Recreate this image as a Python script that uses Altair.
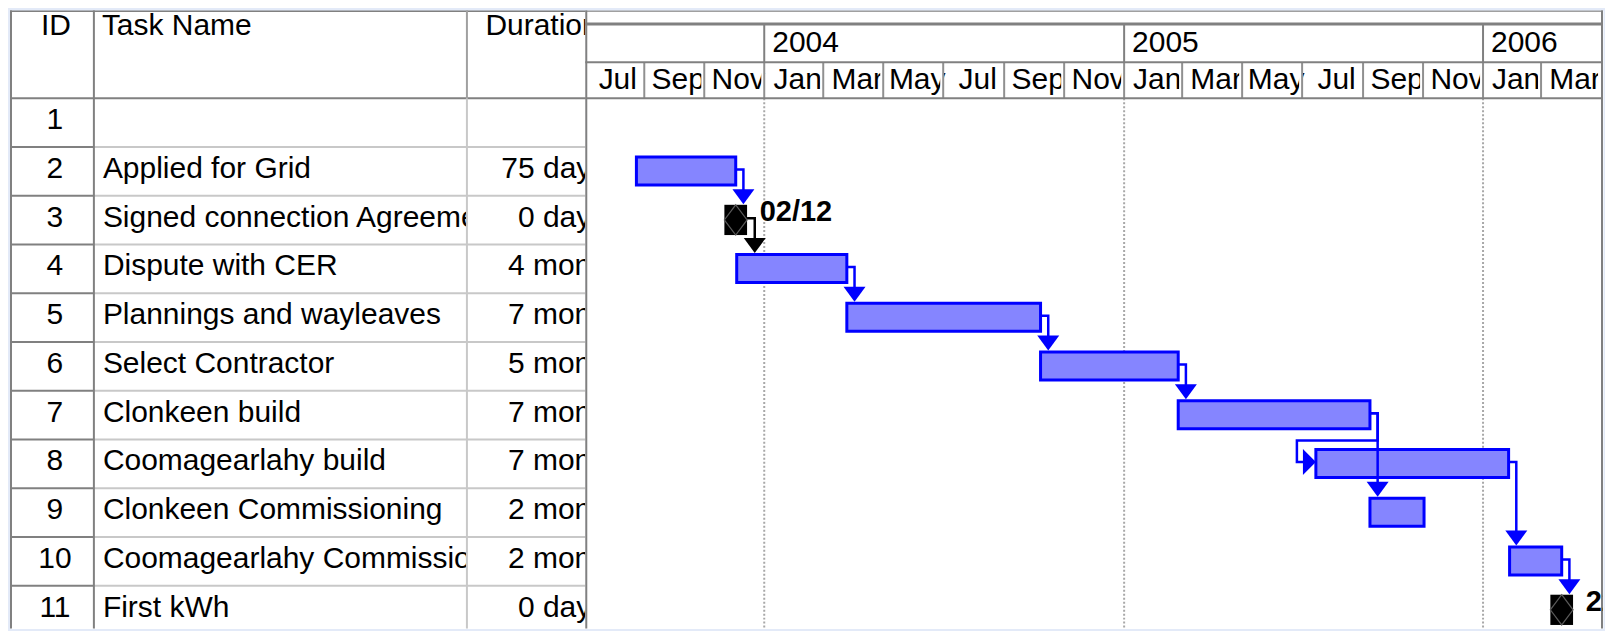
import altair as alt
import pandas as pd

# ---------------- data ----------------
task_ids = [1, 2, 3, 4, 5, 6, 7, 8, 9, 10, 11]
task_names = ["", "Applied for Grid", "Signed connection Agreement", "Dispute with CER",
              "Plannings and wayleaves", "Select Contractor", "Clonkeen build",
              "Coomagearlahy build", "Clonkeen Commissioning", "Coomagearlahy Commissioning",
              "First kWh"]
task_durations = ["", "75 days", "0 days", "4 mons", "7 mons", "5 mons", "7 mons",
                  "7 mons", "2 mons", "2 mons", "0 days"]
task_starts = [None, "2003-08-24", "2003-12-03", "2003-12-04", "2004-03-25", "2004-10-08",
               "2005-02-25", "2005-07-15", "2005-09-08", "2006-01-28", "2006-03-22"]
task_finishes = [None, "2003-12-03", "2003-12-03", "2004-03-25", "2004-10-08", "2005-02-25",
                 "2005-09-08", "2006-01-27", "2005-11-02", "2006-03-22", "2006-03-22"]
milestone_ids = [3, 11]
milestone_labels = ["02/12", "22/03"]
link_from = [2, 3, 4, 5, 6, 7, 7, 8, 10]
link_to = [3, 4, 5, 6, 7, 8, 9, 10, 11]
month_starts = ["2003-07-01", "2003-09-01", "2003-11-01", "2004-01-01", "2004-03-01",
                "2004-05-01", "2004-07-01", "2004-09-01", "2004-11-01", "2005-01-01",
                "2005-03-01", "2005-05-01", "2005-07-01", "2005-09-01", "2005-11-01",
                "2006-01-01", "2006-03-01", "2006-05-01"]
month_labels = ["Jul", "Sep", "Nov", "Jan", "Mar", "May", "Jul", "Sep", "Nov",
                "Jan", "Mar", "May", "Jul", "Sep", "Nov", "Jan", "Mar"]
year_starts = ["2004-01-01", "2005-01-01", "2006-01-01"]
year_labels = ["2004", "2005", "2006"]
view_start = "2003-07-03"
view_end = "2006-05-03"
header_id = "ID"
header_name = "Task Name"
header_dur = "Duration"

# ---------------- layout / style ----------------
W_ID, W_NAME, W_DUR, W_GANTT = 84, 373, 119, 1019
H = 619
HEAD_PX, ROW_PX = 88.0, 48.8
FONT = "Liberation Sans"
FS = 30
DARK = "#808080"
MIDC = "#a0a0a0"
LIGHT = "#c8c8c8"
BLUE = "#0000ff"


def ry(px):
    return (px - HEAD_PX) / ROW_PX


Y_TOP, Y_BOT = ry(0), ry(H)
TIER1, TIER2 = ry(13.7), ry(52.0)
TOPLINE = ry(0.75)
HEAD_BASE = ry(25.0)
YEAR_BASE = ry(42.0)
MONTH_BASE = ry(78.5)
TEXT_OFF = 31.0 / ROW_PX

yscale = alt.Scale(domain=[Y_TOP, Y_BOT], reverse=True, nice=False, zero=False)


def yq(f="y"):
    return alt.Y(f"{f}:Q", scale=yscale, axis=None)


def xq(w, f="x"):
    return alt.X(f"{f}:Q", scale=alt.Scale(domain=[0, w], nice=False, zero=False), axis=None)


def hrule_q(w, ys, color, sw):
    df = pd.DataFrame({"x": 0, "x2": w, "y": ys})
    return alt.Chart(df).mark_rule(color=color, strokeWidth=sw).encode(
        x=xq(w), x2=alt.X2("x2"), y=yq())


def vrule_q(w, x, y0, y1, color, sw):
    df = pd.DataFrame({"x": [x], "y": [y0], "y2": [y1]})
    return alt.Chart(df).mark_rule(color=color, strokeWidth=sw).encode(
        x=xq(w), y=yq(), y2=alt.Y2("y2"))


def text_q(w, df, align, dx, clip=False):
    return alt.Chart(df).mark_text(align=align, baseline="alphabetic", dx=dx, font=FONT,
                                   fontSize=FS, color="black",
                                   clip=clip).encode(x=xq(w), y=yq(), text="t:N")


rows_y = [i - 1 + TEXT_OFF for i in task_ids]
sep_y = list(range(1, 11))

# ---------------- ID panel ----------------
id_panel = alt.layer(
    hrule_q(W_ID, sep_y, DARK, 2),
    hrule_q(W_ID, [0.0], DARK, 2),
    hrule_q(W_ID, [TOPLINE], DARK, 1.5),
    vrule_q(W_ID, 1, Y_TOP, Y_BOT, DARK, 2),
    text_q(W_ID, pd.DataFrame({"x": W_ID / 2, "y": rows_y, "t": [str(i) for i in task_ids]}),
           "center", 3),
    text_q(W_ID, pd.DataFrame({"x": [W_ID / 2], "y": [HEAD_BASE], "t": [header_id]}), "center", 4),
).properties(width=W_ID, height=H)

# ---------------- Task name panel ----------------
name_panel = alt.layer(
    hrule_q(W_NAME, sep_y, LIGHT, 2),
    hrule_q(W_NAME, [0.0], DARK, 2),
    hrule_q(W_NAME, [TOPLINE], DARK, 1.5),
    vrule_q(W_NAME, 0, Y_TOP, Y_BOT, DARK, 2),
    text_q(W_NAME, pd.DataFrame({"x": 0, "y": rows_y, "t": task_names}), "left", 9, clip=True),
    text_q(W_NAME, pd.DataFrame({"x": [0], "y": [HEAD_BASE], "t": [header_name]}), "left", 8,
           clip=True),
).properties(width=W_NAME, height=H)

# ---------------- Duration panel ----------------
dur_panel = alt.layer(
    hrule_q(W_DUR, sep_y, LIGHT, 2),
    hrule_q(W_DUR, [0.0], DARK, 2),
    hrule_q(W_DUR, [TOPLINE], DARK, 1.5),
    vrule_q(W_DUR, 0.5, 0, Y_BOT, LIGHT, 2),
    vrule_q(W_DUR, 0.5, Y_TOP, 0, MIDC, 2),
    text_q(W_DUR, pd.DataFrame({"x": W_DUR, "y": rows_y, "t": task_durations}), "right", 21,
           clip=True),
    text_q(W_DUR, pd.DataFrame({"x": [0], "y": [HEAD_BASE], "t": [header_dur]}), "left", 19,
           clip=True),
).properties(width=W_DUR, height=H)

# ---------------- Gantt panel ----------------
vs, ve = pd.Timestamp(view_start), pd.Timestamp(view_end)
PXD = W_GANTT / (ve - vs).days


def shift(d, px):
    return d + pd.Timedelta(days=px / PXD)


xscale_t = alt.Scale(domain=[alt.DateTime(year=vs.year, month=vs.month, date=vs.day),
                             alt.DateTime(year=ve.year, month=ve.month, date=ve.day)])


def xt(f="x"):
    return alt.X(f"{f}:T", scale=xscale_t, axis=None)


def ghrule(ys, color, sw):
    df = pd.DataFrame({"x": vs, "x2": ve, "y": ys})
    return alt.Chart(df).mark_rule(color=color, strokeWidth=sw).encode(
        x=xt(), x2=alt.X2("x2"), y=yq())


def gvrule(xs, y0, y1, color, sw, dash=None):
    df = pd.DataFrame({"x": xs, "y": y0, "y2": y1})
    kw = dict(color=color, strokeWidth=sw)
    if dash:
        kw["strokeDash"] = dash
    return alt.Chart(df).mark_rule(**kw).encode(x=xt(), y=yq(), y2=alt.Y2("y2"))


start = dict(zip(task_ids, pd.to_datetime(task_starts)))
finish = dict(zip(task_ids, pd.to_datetime(task_finishes)))
ms_set = set(milestone_ids)
MS_HALF_W = 11.35

# timescale
mst = pd.to_datetime(month_starts)
mids = [mst[i] + (mst[i + 1] - mst[i]) / 2 for i in range(len(mst) - 1)]
month_df = pd.DataFrame({"x": mids, "y": MONTH_BASE, "t": month_labels})
mask_df = pd.DataFrame({"x": [shift(d, -3) for d in mst[1:]], "x2": list(mst[1:]),
                        "y": TIER2, "y2": 0.0})
yst = pd.to_datetime(year_starts)
year_df = pd.DataFrame({"x": yst, "y": YEAR_BASE, "t": year_labels})

# bars
bar_ids = [i for i in task_ids if i not in ms_set and pd.notna(start[i])]
bar_df = pd.DataFrame({"x": [start[i] for i in bar_ids], "x2": [finish[i] for i in bar_ids],
                       "y": [i - 1 + 10 / ROW_PX for i in bar_ids],
                       "y2": [i - 1 + 38 / ROW_PX for i in bar_ids]})

# links
line_rows, down_rows, right_rows = [], [], []
for k, (a, b) in enumerate(zip(link_from, link_to)):
    col = "black" if a in ms_set else BLUE
    x0 = shift(finish[a], MS_HALF_W) if a in ms_set else finish[a]
    ya = (a - 1) + 22.5 / ROW_PX
    xl = shift(x0, 7.7)
    pts = [(x0, ya), (xl, ya)]
    if start[b] < finish[a]:
        yb_top = (b - 1) + 1 / ROW_PX
        yb_mid = (b - 1) + 22.5 / ROW_PX
        xb = shift(start[b], -19)
        pts += [(xl, yb_top), (xb, yb_top), (xb, yb_mid), (shift(start[b], -8), yb_mid)]
        right_rows.append({"x": start[b], "y": yb_mid, "c": col})
    else:
        yt = (b - 1) + 8.5 / ROW_PX
        pts += [(xl, yt - 9 / ROW_PX)]
        down_rows.append({"x": xl, "y": yt, "c": col})
    for i, (x, y) in enumerate(pts):
        line_rows.append({"lid": k, "o": i, "x": x, "y": y, "c": col})
line_df = pd.DataFrame(line_rows)
down_df = pd.DataFrame(down_rows)
right_df = pd.DataFrame(right_rows)

ms_df = pd.DataFrame({"x": [start[i] for i in milestone_ids],
                      "y": [i - 1 + 24.2 / ROW_PX for i in milestone_ids]})
msl_df = pd.DataFrame({"x": [start[i] for i in milestone_ids],
                       "y": [i - 1 + 25.7 / ROW_PX for i in milestone_ids],
                       "t": milestone_labels})

SQUARE = "M-0.75,-1L0.75,-1L0.75,1L-0.75,1Z"
DIAMOND = "M0,-1L0.75,0L0,1L-0.75,0Z"
DOWN = "M-1,-1.36L1,-1.36L0,0Z"
RIGHT = "M-1.18,-1.18L0,0L-1.18,1.18Z"


def gtext(df, align, dx, weight="normal", size=FS):
    return alt.Chart(df).mark_text(align=align, baseline="alphabetic", dx=dx, font=FONT,
                                   fontSize=size, fontWeight=weight, color="black",
                                   clip=True).encode(x=xt(), y=yq(), text="t:N")


gantt_panel = alt.layer(
    gvrule(yst, 0.0, Y_BOT, "#a8a8a8", 2, [2, 2]),
    gtext(month_df, "center", 4),
    alt.Chart(mask_df).mark_rect(color="white").encode(x=xt(), x2=alt.X2("x2"), y=yq(),
                                                      y2=alt.Y2("y2")),
    gvrule(list(mst[1:-1]), TIER2, 0.0, "#909090", 2),
    gvrule(yst, TIER1, TIER2, DARK, 2),
    gtext(year_df, "left", 8),
    ghrule([TOPLINE], MIDC, 1.5),
    ghrule([TIER1], DARK, 3),
    ghrule([TIER2], DARK, 2),
    ghrule([0.0], DARK, 2),
    gvrule([shift(vs, 1)], Y_TOP, Y_BOT, DARK, 2),
    gvrule([shift(vs, W_GANTT - 1)], Y_TOP, Y_BOT, DARK, 2),
    alt.Chart(bar_df).mark_rect(fill="#8585ff", stroke=BLUE, strokeWidth=3).encode(
        x=xt(), x2=alt.X2("x2"), y=yq(), y2=alt.Y2("y2")),
    alt.Chart(line_df).mark_line(strokeWidth=2.5).encode(
        x=xt(), y=yq(), detail="lid:N", order="o:Q", color=alt.Color("c:N", scale=None)),
    alt.Chart(down_df).mark_point(shape=DOWN, filled=True, size=484, opacity=1).encode(
        x=xt(), y=yq(), color=alt.Color("c:N", scale=None)),
    alt.Chart(right_df).mark_point(shape=RIGHT, filled=True, size=484, opacity=1).encode(
        x=xt(), y=yq(), color=alt.Color("c:N", scale=None)),
    alt.Chart(ms_df).mark_point(shape=SQUARE, filled=True, size=918, opacity=1,
                                color="black").encode(x=xt(), y=yq()),
    alt.Chart(ms_df).mark_point(shape=DIAMOND, filled=False, size=918, opacity=1,
                                color="#5a5a5a", strokeWidth=1.2).encode(x=xt(), y=yq()),
    gtext(msl_df, "left", 24, weight="bold", size=29),
).properties(width=W_GANTT, height=H)

chart = alt.hconcat(id_panel, name_panel, dur_panel, gantt_panel, spacing=0,
                    bounds="flush").properties(
    background="#e3eaf8", padding=0
).configure_view(stroke="transparent", fill="white")

chart.save("out.html", embed_options={"renderer": "svg", "actions": False})
